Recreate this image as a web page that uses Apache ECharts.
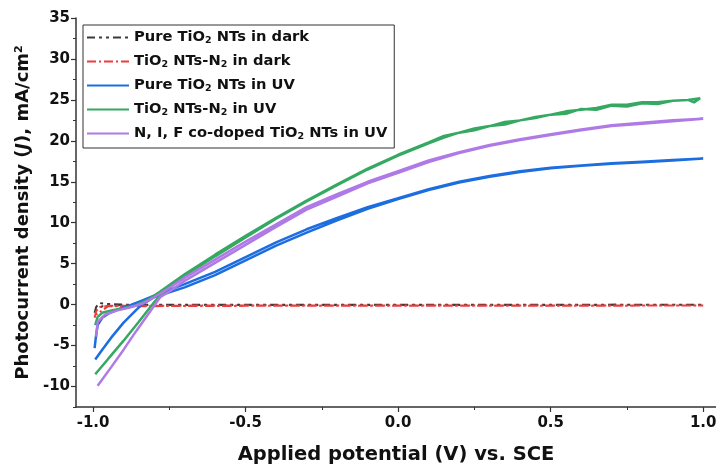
<!DOCTYPE html>
<html>
<head>
<meta charset="utf-8">
<script src="https://cdn.jsdelivr.net/npm/echarts@6/dist/echarts.min.js"></script>
<style>
  html, body { margin: 0; padding: 0; background: #fff; }
  #chart { width: 716px; height: 472px; }
</style>
</head>
<body>
<div id="chart"></div>
<script>
// series names (legend order)
const seriesNames = [
  'Pure TiO2 NTs in dark',
  'TiO2 NTs-N2 in dark',
  'Pure TiO2 NTs in UV',
  'TiO2 NTs-N2 in UV',
  'N, I, F co-doped TiO2 NTs in UV'
]

// tick values
const xLabels = [-1.0, -0.5, 0.0, 0.5, 1.0]
const xMinor = [-1.0, -0.75, -0.5, -0.25, 0.0, 0.25, 0.5, 0.75, 1.0]
const yLabels = [-10, -5, 0, 5, 10, 15, 20, 25, 30, 35]
const yMinor = [-12.5, -10, -7.5, -5, -2.5, 0, 2.5, 5, 7.5, 10, 12.5, 15, 17.5, 20, 22.5, 25, 27.5, 30, 32.5, 35]

// [potential V, current mA/cm2]
const darkPure = [[-0.995, -1.0], [-0.99, -0.3], [-0.98, 0.2], [-0.96, 0.1], [-0.9, 0.0], [-0.5, 0.0], [0.0, 0.0], [0.5, 0.0], [1.0, 0.0],
  [0.5, -0.05], [0.0, -0.05], [-0.5, -0.05], [-0.9, -0.05], [-0.97, -0.2], [-0.99, -0.6]]
const darkN2 = [[-0.995, -1.6], [-0.99, -0.8], [-0.98, -0.3], [-0.95, -0.15], [-0.5, -0.1], [0.0, -0.1], [0.5, -0.1], [1.0, -0.1],
  [0.5, -0.15], [0.0, -0.15], [-0.5, -0.15], [-0.95, -0.2], [-0.99, -1.2]]

const blueFwd = [[-0.995, -5.3], [-0.99, -3.7], [-0.985, -2.5], [-0.97, -1.6], [-0.95, -1.1], [-0.92, -0.6], [-0.88, -0.1],
  [-0.84, 0.5], [-0.8, 1.1], [-0.75, 1.8], [-0.7, 2.5], [-0.6, 4.0], [-0.5, 5.8], [-0.4, 7.6], [-0.3, 9.2], [-0.2, 10.6],
  [-0.1, 11.9], [0.0, 13.0], [0.1, 14.1], [0.2, 15.0], [0.3, 15.7], [0.4, 16.3], [0.5, 16.7], [0.6, 17.0], [0.7, 17.25],
  [0.8, 17.45], [0.9, 17.65], [1.0, 17.85]]
const blueRev = [[1.0, 17.85], [0.9, 17.6], [0.8, 17.4], [0.7, 17.2], [0.6, 16.95], [0.5, 16.65], [0.4, 16.2], [0.3, 15.6],
  [0.2, 14.9], [0.1, 14.0], [0.0, 12.9], [-0.1, 11.7], [-0.2, 10.3], [-0.3, 8.8], [-0.4, 7.2], [-0.5, 5.4], [-0.6, 3.6],
  [-0.7, 2.1], [-0.75, 1.5], [-0.8, 0.9], [-0.84, 0.0], [-0.86, -0.7], [-0.9, -2.2], [-0.94, -4.0], [-0.97, -5.5], [-0.993, -6.7]]

const greenFwd = [[-0.993, -2.5], [-0.985, -1.5], [-0.97, -1.0], [-0.94, -0.7], [-0.9, -0.45], [-0.86, -0.1], [-0.82, 0.6],
  [-0.78, 1.6], [-0.7, 3.7], [-0.6, 6.1], [-0.5, 8.4], [-0.4, 10.6], [-0.3, 12.7], [-0.2, 14.7], [-0.1, 16.6], [0.0, 18.3],
  [0.1, 19.8], [0.15, 20.6], [0.2, 21.0], [0.25, 21.3], [0.3, 21.8], [0.35, 22.3], [0.4, 22.5], [0.45, 22.9], [0.5, 23.2],
  [0.55, 23.6], [0.6, 23.8], [0.65, 24.0], [0.7, 24.4], [0.75, 24.4], [0.8, 24.7], [0.85, 24.7], [0.9, 24.9], [0.95, 25.0], [0.99, 25.2]]
const greenRev = [[0.99, 25.3], [0.97, 24.7], [0.95, 25.0], [0.9, 24.9], [0.85, 24.5], [0.8, 24.6], [0.75, 24.2], [0.7, 24.3],
  [0.65, 23.8], [0.6, 23.9], [0.55, 23.3], [0.5, 23.2], [0.45, 22.8], [0.4, 22.5], [0.35, 22.0], [0.3, 21.8], [0.25, 21.5],
  [0.2, 21.0], [0.15, 20.4], [0.1, 19.7], [0.0, 18.2], [-0.1, 16.5], [-0.2, 14.6], [-0.3, 12.6], [-0.4, 10.5], [-0.5, 8.2],
  [-0.6, 5.9], [-0.7, 3.5], [-0.75, 2.2], [-0.8, 0.3], [-0.85, -2.1], [-0.9, -4.4], [-0.95, -6.6], [-0.993, -8.5]]

const purpleFwd = [[-0.99, -3.9], [-0.985, -2.1], [-0.96, -1.2], [-0.92, -0.7], [-0.88, -0.35], [-0.84, 0.1], [-0.8, 0.9],
  [-0.76, 1.8], [-0.7, 3.3], [-0.6, 5.5], [-0.5, 7.7], [-0.4, 9.8], [-0.3, 11.9], [-0.2, 13.5], [-0.1, 15.0], [0.0, 16.3],
  [0.1, 17.6], [0.2, 18.6], [0.3, 19.5], [0.4, 20.2], [0.5, 20.8], [0.6, 21.4], [0.7, 21.9], [0.8, 22.2], [0.9, 22.5], [1.0, 22.7]]
const purpleRev = [[1.0, 22.7], [0.9, 22.4], [0.8, 22.1], [0.7, 21.8], [0.6, 21.3], [0.5, 20.7], [0.4, 20.1], [0.3, 19.4],
  [0.2, 18.5], [0.1, 17.4], [0.0, 16.1], [-0.1, 14.8], [-0.2, 13.2], [-0.3, 11.6], [-0.4, 9.5], [-0.5, 7.3], [-0.6, 5.1],
  [-0.7, 2.9], [-0.75, 1.6], [-0.78, 0.9], [-0.82, -1.2], [-0.86, -3.3], [-0.9, -5.5], [-0.94, -7.6], [-0.985, -9.9]]

const colors = ['#3a3a3a', '#ee3b3b', '#1c6de0', '#35a862', '#b07ae6']

const font = 'DejaVu Sans, sans-serif'

const chart = echarts.init(document.getElementById('chart'))

function sub(name) {
  return name.replace('TiO2', 'TiO{sub|2}').replace('-N2', '-N{sub|2}')
}

function mkLine(i, data, width, type) {
  return {
    name: seriesNames[i],
    type: 'line',
    data: data,
    symbol: 'none',
    lineStyle: { color: colors[i], width: width, type: type },
    itemStyle: { color: colors[i] },
    z: 2 + i
  }
}

const axisCommon = {
  type: 'value',
  splitLine: { show: false },
  axisLine: { show: true, onZero: false, lineStyle: { color: '#333', width: 1.5 } }
}

const option = {
  animation: false,
  backgroundColor: '#fff',
  grid: { left: 76, right: 0, top: 18, bottom: 65, outerBoundsMode: 'none', containLabel: false },
  legend: {
    orient: 'vertical',
    left: 83,
    top: 25,
    padding: [5, 7, 6, 3],
    itemGap: 8,
    itemWidth: 42,
    itemHeight: 14,
    borderColor: '#333',
    borderWidth: 1,
    data: seriesNames,
    formatter: sub,
    itemStyle: { opacity: 0 },
    lineStyle: { opacity: 1 },
    textStyle: {
      fontFamily: font,
      fontSize: 14.7,
      fontWeight: 'bold',
      color: '#111',
      rich: {
        sub: { fontFamily: font, fontSize: 9.5, fontWeight: 'bold', color: '#111', verticalAlign: 'bottom', padding: [7, 0, 0, 0] }
      }
    }
  },
  xAxis: [
    {
      ...axisCommon,
      min: -1.056,
      max: 1.042,
      name: 'Applied potential (V) vs. SCE',
      nameLocation: 'middle',
      nameGap: 38,
      nameTextStyle: { fontFamily: font, fontSize: 19.5, fontWeight: 'bold', color: '#111' },
      axisTick: { show: true, length: 5, customValues: xLabels, lineStyle: { color: '#333', width: 1.2 } },
      axisLabel: {
        customValues: xLabels,
        margin: 9,
        fontFamily: font,
        fontSize: 15,
        fontWeight: 'bold',
        color: '#111',
        formatter: v => v.toFixed(1)
      }
    },
    {
      ...axisCommon,
      min: -1.056,
      max: 1.042,
      position: 'bottom',
      axisLine: { show: false, onZero: false },
      axisTick: { show: true, length: 3, customValues: xMinor, lineStyle: { color: '#333', width: 1 } },
      axisLabel: { show: false }
    }
  ],
  yAxis: [
    {
      ...axisCommon,
      min: -12.5,
      max: 35,
      name: 'Photocurrent density ({i|J}), mA/cm{sup|2}',
      nameLocation: 'middle',
      nameRotate: 90,
      nameGap: 39,
      nameTextStyle: {
        fontFamily: font,
        fontSize: 18,
        fontWeight: 'bold',
        color: '#111',
        rich: {
          i: { fontFamily: font, fontSize: 18, fontWeight: 'bold', fontStyle: 'italic', color: '#111' },
          sup: { fontFamily: font, fontSize: 11, fontWeight: 'bold', color: '#111', verticalAlign: 'top', padding: [0, 0, 8, 0] }
        }
      },
      axisTick: { show: true, length: 5, customValues: yLabels, lineStyle: { color: '#333', width: 1.2 } },
      axisLabel: {
        customValues: yLabels,
        margin: 6,
        fontFamily: font,
        fontSize: 15,
        fontWeight: 'bold',
        color: '#111'
      }
    },
    {
      ...axisCommon,
      min: -12.5,
      max: 35,
      position: 'left',
      axisLine: { show: false, onZero: false },
      axisTick: { show: true, length: 3, customValues: yMinor, lineStyle: { color: '#333', width: 1 } },
      axisLabel: { show: false }
    }
  ],
  series: [
    mkLine(0, darkPure, 2, [8, 4, 3, 4, 3, 4]),
    mkLine(1, darkN2, 2, [9, 3, 2, 3]),
    mkLine(2, blueFwd.concat(blueRev), 2.5, 'solid'),
    mkLine(3, greenFwd.concat(greenRev), 2.5, 'solid'),
    mkLine(4, purpleFwd.concat(purpleRev), 2.5, 'solid')
  ]
}

chart.setOption(option)
</script>
</body>
</html>
